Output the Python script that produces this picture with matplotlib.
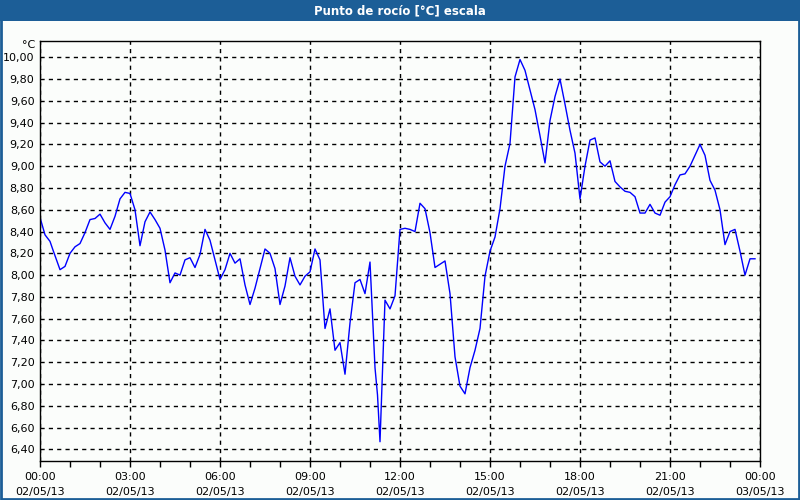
import matplotlib
matplotlib.use("Agg")
import matplotlib.pyplot as plt
from matplotlib.patches import Rectangle
from matplotlib.ticker import FuncFormatter, MultipleLocator

# minutes since 02/05/13 00:00
minutes = [0, 10, 20, 26, 40, 50, 60, 70, 80, 90, 100, 110, 120, 130, 140, 150,
           160, 170, 180, 190, 200, 210, 220, 230, 240, 250, 260, 270, 280, 290,
           300, 310, 320, 330, 340, 350, 360, 370, 380, 390, 400, 410, 420, 430,
           440, 450, 460, 470, 480, 490, 500, 510, 520, 530, 540, 550, 560, 570,
           574, 580, 590, 600, 610, 620, 630, 640, 650, 660, 670, 675, 680, 690,
           700, 710, 720, 730, 740, 750, 760, 770, 780, 790, 800, 810, 820, 830,
           840, 850, 860, 870, 880, 890, 900, 910, 920, 930, 940, 950, 960, 970,
           980, 990, 1000, 1010, 1020, 1030, 1040, 1050, 1060, 1070, 1080, 1090,
           1100, 1110, 1120, 1130, 1140, 1150, 1160, 1170, 1180, 1190, 1200, 1210,
           1220, 1230, 1240, 1250, 1260, 1270, 1280, 1290, 1300, 1310, 1320, 1330,
           1340, 1350, 1360, 1370, 1380, 1390, 1400, 1410, 1420, 1430]
dew_point = [8.53, 8.37, 8.31, 8.23, 8.05, 8.08, 8.20, 8.26, 8.29, 8.39, 8.51,
             8.52, 8.56, 8.48, 8.42, 8.54, 8.70, 8.76, 8.75, 8.60, 8.27, 8.49,
             8.58, 8.51, 8.43, 8.23, 7.93, 8.02, 8.00, 8.14, 8.16, 8.07, 8.19,
             8.42, 8.32, 8.14, 7.96, 8.05, 8.20, 8.11, 8.15, 7.91, 7.73, 7.88,
             8.06, 8.24, 8.20, 8.06, 7.73, 7.90, 8.16, 7.99, 7.91, 7.99, 8.03,
             8.24, 8.14, 7.51, 7.58, 7.69, 7.31, 7.38, 7.09, 7.56, 7.93, 7.96,
             7.83, 8.12, 7.15, 6.90, 6.47, 7.77, 7.69, 7.81, 8.42, 8.43, 8.42,
             8.40, 8.66, 8.61, 8.39, 8.07, 8.10, 8.13, 7.83, 7.25, 6.98, 6.91,
             7.15, 7.31, 7.51, 7.99, 8.22, 8.35, 8.61, 9.00, 9.21, 9.82, 9.98,
             9.88, 9.70, 9.52, 9.28, 9.03, 9.42, 9.64, 9.80, 9.57, 9.33, 9.12,
             8.70, 9.00, 9.24, 9.26, 9.04, 9.00, 9.05, 8.86, 8.81, 8.77, 8.76,
             8.72, 8.57, 8.57, 8.65, 8.57, 8.55, 8.67, 8.72, 8.83, 8.92, 8.93,
             9.00, 9.10, 9.20, 9.10, 8.87, 8.78, 8.60, 8.28, 8.40, 8.42, 8.22,
             8.00, 8.15, 8.15]

tick_hours = [0, 3, 6, 9, 12, 15, 18, 21, 24]
tick_labels = ["00:00\n02/05/13", "03:00\n02/05/13", "06:00\n02/05/13",
               "09:00\n02/05/13", "12:00\n02/05/13", "15:00\n02/05/13",
               "18:00\n02/05/13", "21:00\n02/05/13", "00:00\n03/05/13"]

title = "Punto de rocío [°C] escala"
blue = "#1c5e97"

fig = plt.figure(figsize=(8, 5), dpi=100, facecolor="#fbfdfb")
ax = fig.add_axes([0.05, 0.078, 0.90, 0.84])
ax.set_facecolor("#fbfdfb")

hours = [m / 60 for m in minutes]
ax.plot(hours, dew_point, color="#0000ff", lw=1)

ax.set_xlim(0, 24)
ax.set_ylim(6.293, 10.15)
ax.set_xticks(tick_hours)
ax.set_xticklabels(tick_labels, fontsize=8, linespacing=1.6)
ax.xaxis.set_minor_locator(MultipleLocator(1))
ax.yaxis.set_major_locator(MultipleLocator(0.2))
ax.yaxis.set_major_formatter(FuncFormatter(lambda v, p: f"{v:.2f}".replace(".", ",")))
ax.tick_params(axis="y", length=0, pad=4, labelsize=8)
ax.tick_params(axis="x", which="both", direction="out", length=4, width=1, pad=4)

ax.grid(True, color="black", ls=(0, (3, 3)), lw=1)
for s in ax.spines.values():
    s.set_color("black")
    s.set_linewidth(1)

fig.text(35 / 800, 1 - 45.5 / 500, "°C", ha="right", va="center", fontsize=8)

# title bar and frame
fig.patches.append(Rectangle((0, 1 - 21 / 500), 1, 21 / 500, transform=fig.transFigure,
                             facecolor=blue, edgecolor="none", zorder=0))
fig.patches.append(Rectangle((0.001, 0.002), 0.9975, 0.996, transform=fig.transFigure,
                             facecolor="none", edgecolor=blue, lw=2))
fig.text(0.5, 1 - 10.5 / 500, title, ha="center", va="center", color="white",
         fontsize=8.5, fontweight="bold", family=["Liberation Sans Narrow", "DejaVu Sans"])

fig.savefig("out.png", dpi=100, facecolor=fig.get_facecolor())
